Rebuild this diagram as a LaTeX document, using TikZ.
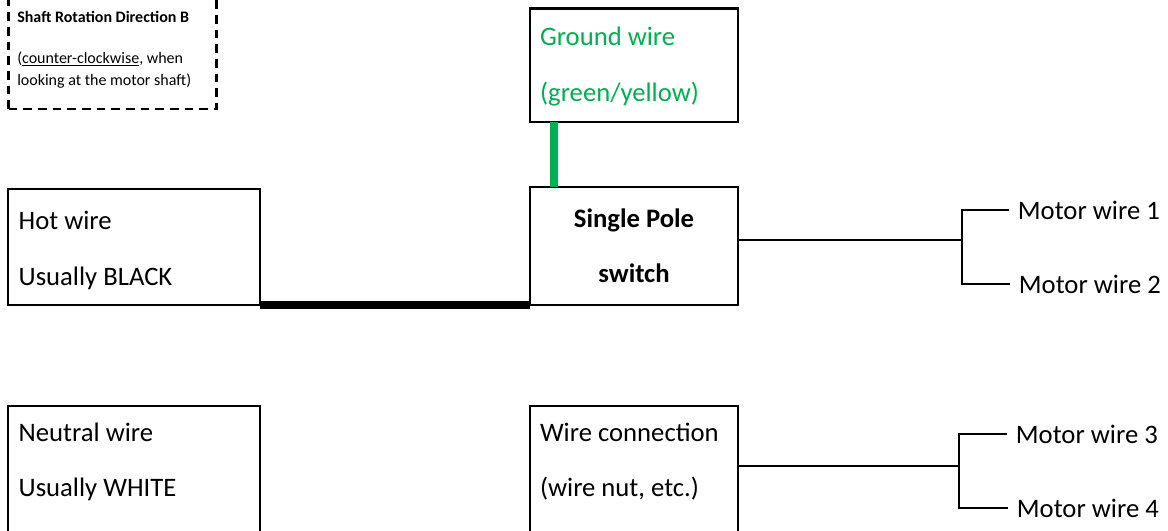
\documentclass[tikz,border=0pt]{standalone}
\usepackage{fontspec}
\setmainfont{Carlito}
\usetikzlibrary{calc}
\definecolor{wiregreen}{HTML}{00B050}
\tikzset{
	wirebox/.style={draw, line width=1.9pt, outer sep=0pt, anchor=north west, align=flush left, inner sep=0pt, text width=#1, minimum width=#1},
	motorlabel/.style={anchor=west, inner xsep=6.5pt, inner ysep=0pt},
	thinwire/.style={line width=1.5pt},
}

\begin{document}
\begin{tikzpicture}[x=0.75pt, y=-0.75pt, font=\fontsize{20}{41.5}\selectfont]
		%%%%% START %%%%%
		
		\useasboundingbox (0, 0) rectangle (1168, 531);
		\clip (0, 0) rectangle (1168, 531);
		
		\node[draw, line width=1.6pt, dash pattern=on 6.5pt off 4.5pt, outer sep=0pt, anchor=north west, minimum width=156pt, minimum height=89.25pt, inner sep=0pt] (dirbox) at (8.5, -10) {};
		\node[anchor=north west, inner sep=0pt, align=flush left, font=\fontsize{12}{16.5}\selectfont] (dirtext) at (17, 11) {\textbf{Shaft Rotation Direction B}\\[14pt](\underline{counter-clockwise}, when\\looking at the motor shaft)};
		
		\node[wirebox=156pt, minimum height=85pt, text=wiregreen] (ground) at (530, 8.5) {\hspace*{7.5pt}\rule{0pt}{16pt}Ground wire\\\hspace*{7.5pt}(green/yellow)};
		\node[wirebox=156pt, minimum height=88.5pt, align=flush center, font=\fontsize{20}{41.5}\selectfont\bfseries] (switch) at (530, 187) {Single Pole\\switch};
		\node[wirebox=189pt, minimum height=87pt] (hot) at (8, 189) {\hspace*{8pt}\rule{0pt}{19pt}Hot wire\\\hspace*{8pt}Usually BLACK};
		
		\node[wirebox=189pt, inner ysep=12.5pt] (neutral) at (8, 406) {\hspace*{8pt}Neutral wire\\\hspace*{8pt}Usually WHITE\\~};
		\node[wirebox=156pt, inner ysep=12.5pt] (connection) at (530, 406) {\hspace*{7.5pt}Wire connection\\\hspace*{7.5pt}(wire nut, etc.)\\~};
		
		\draw[line width=5.7pt] (hot.south east) -- (switch.south west);
		\coordinate (groundtop) at ($(ground.south west)+(24, 0)$);
		\draw[line width=5.5pt, color=wiregreen] (groundtop) -- (groundtop |- switch.north);
		
		\coordinate (splitA) at (961.5, 240.5);
		\node[motorlabel] (motorA) at (1009, 210) {Motor wire 1};
		\node[motorlabel] (motorB) at (1010, 284) {Motor wire 2};
		\draw[thinwire] (splitA -| switch.east) -- (splitA);
		\draw[thinwire] (motorA.west) -| (splitA) |- (motorB.west);
		
		\coordinate (splitB) at (959, 465.5);
		\node[motorlabel] (motorC) at (1007, 434) {Motor wire 3};
		\node[motorlabel] (motorD) at (1008, 508) {Motor wire 4};
		\draw[thinwire] (splitB -| connection.east) -- (splitB);
		\draw[thinwire] (motorC.west) -| (splitB) |- (motorD.west);
		
		%%%%% END %%%%%
	\end{tikzpicture}
\end{document}
